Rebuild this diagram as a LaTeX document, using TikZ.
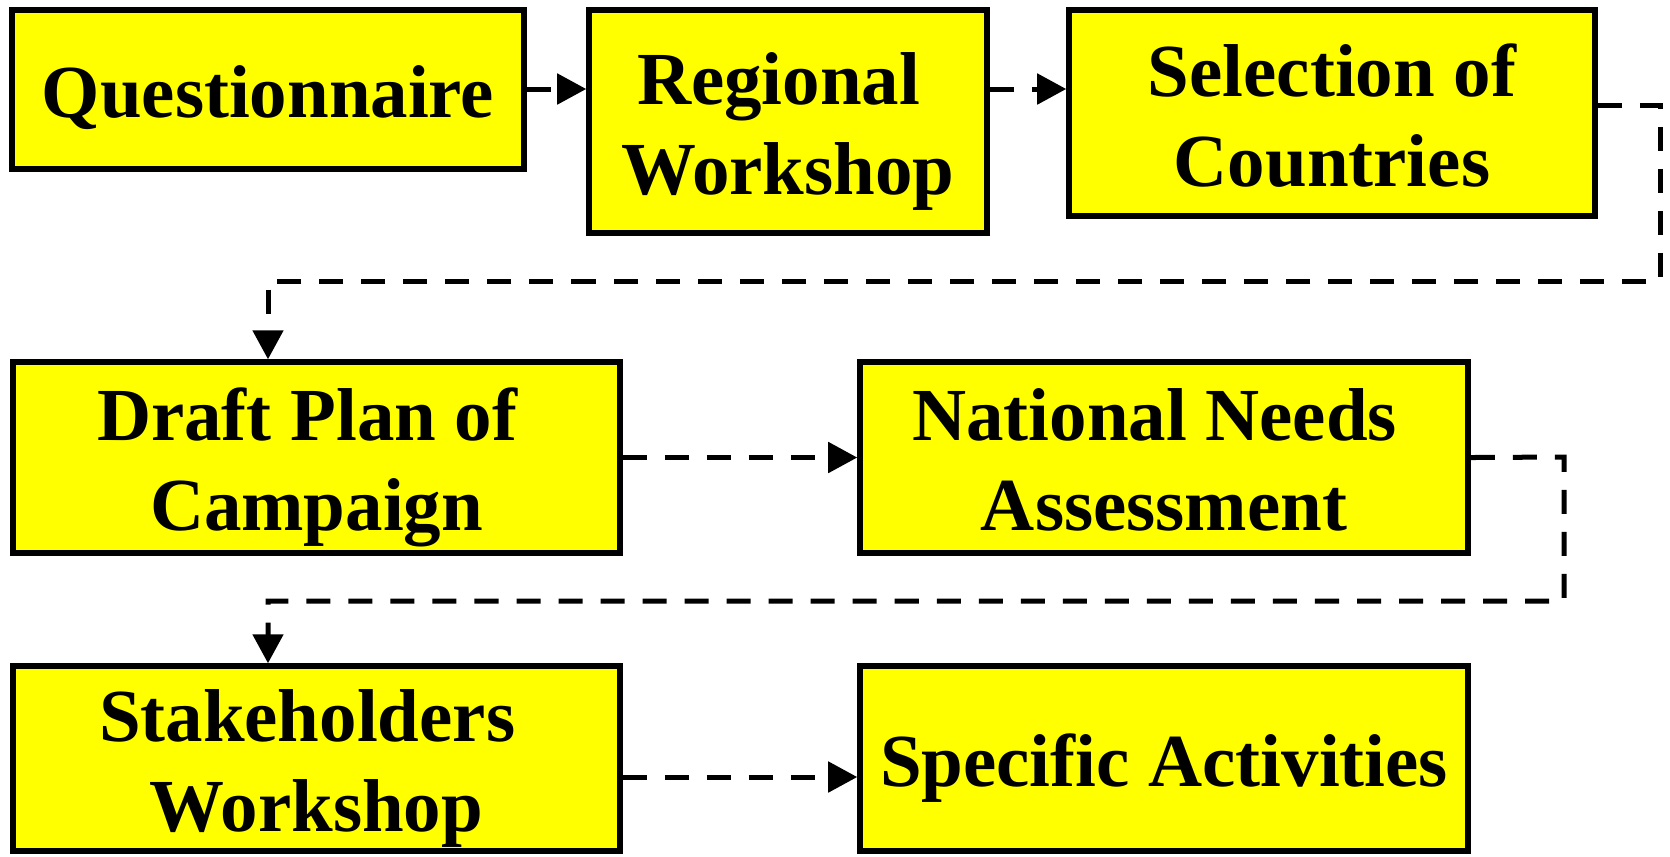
\documentclass[tikz,border=0pt]{standalone}
\usepackage{fontspec}
\setmainfont{Liberation Serif}
\usetikzlibrary{arrows.meta}
\definecolor{boxyellow}{RGB}{255,255,0}
\newcommand\lnstrut{\rule[-0.17cm]{0pt}{0.90cm}}
\newcommand\trsp{\hspace*{0.25em}}
\tikzset{
  stepbox/.style={draw=black, fill=boxyellow, line width=0.055cm, inner sep=0pt,
    align=center, font=\fontsize{21.3pt}{0.9cm}\selectfont\bfseries},
  flow/.style={line width=0.05cm, dash pattern=on 0.24cm off 0.18cm,
    -{Triangle[length=0.29cm,width=0.30cm]}}
}
\begin{document}
\begin{tikzpicture}[x=0.01cm,y=-0.01cm]
\useasboundingbox (0,0) rectangle (1670,856);
\node[stepbox, minimum width=512*0.01cm, minimum height=159*0.01cm] (q) at (268,89.5) {\lnstrut Questionnaire};
\node[stepbox, minimum width=398*0.01cm, minimum height=223*0.01cm] (r) at (788,121.5) {\lnstrut Regional\trsp\\\lnstrut Workshop};
\node[stepbox, minimum width=526*0.01cm, minimum height=206*0.01cm] (s) at (1332,113) {\lnstrut Selection of\\\lnstrut Countries};
\node[stepbox, minimum width=607*0.01cm, minimum height=191*0.01cm] (d) at (316.5,457.5) {\lnstrut Draft Plan of\trsp\\\lnstrut Campaign};
\node[stepbox, minimum width=608*0.01cm, minimum height=191*0.01cm] (n) at (1164,457.5) {\lnstrut National Needs\trsp\\\lnstrut Assessment};
\node[stepbox, minimum width=607*0.01cm, minimum height=185*0.01cm] (w) at (316.5,758.5) {\lnstrut Stakeholders\trsp\\\lnstrut Workshop};
\node[stepbox, minimum width=608*0.01cm, minimum height=185*0.01cm] (a) at (1164,758.5) {\lnstrut Specific Activities};
\coordinate (s1) at (1660,105);
\coordinate (s2) at (1660,281);
\coordinate (s3) at (268,281);
\coordinate (n1) at (1564,457);
\coordinate (n2) at (1564,601);
\coordinate (n3) at (268,601);
\draw[flow] (q.east |- 0,89) -- (r.west |- 0,89);
\draw[flow] (r.east |- 0,89) -- (s.west |- 0,89);
\draw[flow] (s.east |- s1) -- (s1) -- (s2) -- (s3) -- (s3 |- d.north);
\draw[flow] (d.east) -- (n.west);
\draw[flow] (n.east) -- (n1) -- (n2) -- (n3) -- (n3 |- w.north);
\draw[flow] (w.east |- 0,777) -- (a.west |- 0,777);
\end{tikzpicture}
\end{document}
